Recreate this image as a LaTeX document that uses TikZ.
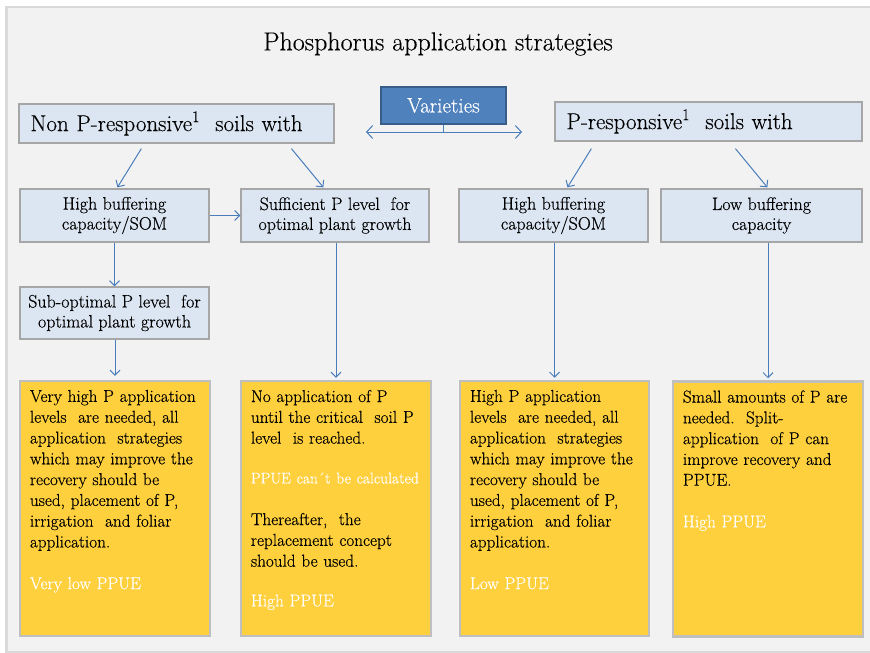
\documentclass[tikz,border=0pt]{standalone}
\usepackage{fontspec}
\setmainfont{Latin Modern Roman}[FakeStretch=1.0,FakeBold=0.3]
\usetikzlibrary{arrows.meta}
\definecolor{panel}{HTML}{F2F2F2}
\definecolor{boxblue}{HTML}{DCE6F2}
\definecolor{boxline}{HTML}{A6A6A6}
\definecolor{varblue}{HTML}{4F81BD}
\definecolor{varline}{HTML}{385D8A}
\definecolor{arrowblue}{HTML}{4A7EBB}
\definecolor{yellowfill}{HTML}{FFD03D}
\definecolor{yellowline}{HTML}{BFBFBF}

\begin{document}
\begin{tikzpicture}[x=1pt,y=-1pt,
  soilbox/.style={draw=boxline,line width=1.2pt,fill=boxblue,minimum height=39pt,inner xsep=11.5pt,inner ysep=0pt,text width=#1,align=left,font=\fontsize{23}{26}\selectfont},
  infobox/.style={draw=boxline,line width=1.2pt,fill=boxblue,minimum width=#1,minimum height=53pt,inner sep=0pt,align=center,font=\fontsize{18}{20}\selectfont},
  ybox/.style={draw=yellowline,line width=2.5pt,fill=yellowfill,minimum width=190pt,minimum height=255pt,inner sep=0pt},
  note/.style={anchor=north west,text width=180pt,align=left,inner sep=0pt,font=\fontsize{17.2}{20.8}\selectfont},
  arr/.style={draw=arrowblue,line width=1pt,-{Straight Barb[length=5pt,width=10pt]}}]
			\useasboundingbox (0,0) rectangle (870,653);
			\fill[white] (0,0) rectangle (870,653);
			\fill[gray!30] (5,6) rectangle (870,653);
			\fill[panel] (8,8) rectangle (870,651);
			\node[font=\fontsize{26}{30}\selectfont] (title) at (438,44) {Phosphorus application strategies};
			\node[draw=varline,line width=1.5pt,fill=varblue,text=white,minimum width=125pt,minimum height=37pt,font=\fontsize{21}{24}\selectfont] (vari) at (443.5,105.5) {Varieties};
			\node[soilbox=292pt] (non) at (176.5,123.5) {Non P-responsive\textsuperscript{1}\ \ soils with};
			\node[soilbox=284pt] (pres) at (708.5,121.5) {P-responsive\textsuperscript{1}\ \ soils with};
			\node[infobox=189pt] (hb1) at (114.5,215.5) {High buffering\\capacity/SOM};
			\node[infobox=188pt] (suff) at (335,215.5) {Sufficient P level\ \ for\\optimal plant growth};
			\node[infobox=189pt] (hb2) at (553.5,215.5) {High buffering\\capacity/SOM};
			\node[infobox=201pt] (lb) at (761.5,215.5) {Low buffering\\capacity};
			\node[infobox=189pt,minimum height=52pt] (subo) at (114.5,313) {Sub-optimal P level\ \ for\\optimal plant growth};
			\node[ybox] (y1) at (115,508.5) {};
			\node[ybox] (y2) at (336,508.5) {};
			\node[ybox,minimum width=189pt] (y3) at (554.5,508.5) {};
			\node[ybox] (y4) at (768,509) {};
			\node[note] (t1) at ([xshift=11pt,yshift=-10pt]y1.north west) {Very high P application\\levels\ \ are needed, all\\application\ \ strategies\\which may improve the\\recovery should be\\used, placement of P,\\irrigation\ \ and foliar\\application.\\[20.8pt]\textcolor{white}{Very low PPUE}};
			\node[note] (t2) at ([xshift=11pt,yshift=-10pt]y2.north west) {No application of P\\until the critical\ \ soil P\\level\ \ is reached.\\[19pt]\textcolor{white}{\fontsize{15.5}{20.8}\selectfont PPUE can´t be calculated}\\[20.8pt]Thereafter,\ \ the\\replacement concept\\should be used.\\[19pt]\textcolor{white}{High PPUE}};
			\node[note] (t3) at ([xshift=11pt,yshift=-10pt]y3.north west) {High P application\\levels\ \ are needed, all\\application\ \ strategies\\which may improve the\\recovery should be\\used, placement of P,\\irrigation\ \ and foliar\\application.\\[20.8pt]\textcolor{white}{Low PPUE}};
			\node[note] (t4) at ([xshift=11pt,yshift=-10pt]y4.north west) {Small amounts of P are\\needed.\ \ Split-\\application\ \ of P can\\improve recovery and\\PPUE.\\[20.8pt]\textcolor{white}{High PPUE}};
			\coordinate (vl) at (366,132);
			\coordinate (vr) at (522,132);
			\draw[draw=arrowblue,line width=1pt,{Straight Barb[length=6pt,width=13pt]}-{Straight Barb[length=6pt,width=13pt]}] (vl) -- (vr);
			\draw[draw=arrowblue,line width=1pt] (vari.south) -- (vari.south |- vl);
			\draw[arr] ([xshift=123pt,yshift=-5pt]non.south west) -- ([xshift=98pt,yshift=1pt]hb1.north west);
			\draw[arr] ([xshift=273pt,yshift=-5pt]non.south west) -- ([xshift=83pt,yshift=1pt]suff.north west);
			\draw[arr] ([xshift=37pt,yshift=-7pt]pres.south west) -- ([xshift=109pt,yshift=1pt]hb2.north west);
			\draw[arr] ([xshift=181pt,yshift=-7pt]pres.south west) -- ([xshift=107pt,yshift=1pt]lb.north west);
			\draw[arr] (hb1.east) -- (suff.west);
			\draw[arr] (hb1.south) -- (subo.north);
			\draw[arr] (subo.south -| y1.north) -- ([yshift=4pt]y1.north);
			\draw[arr] (suff.south -| y2.north) -- ([yshift=2pt]y2.north);
			\draw[arr] (hb2.south -| y3.north) -- ([yshift=2pt]y3.north);
			\draw[arr] (lb.south -| y4.north) -- ([yshift=2pt]y4.north);
		\end{tikzpicture}
\end{document}
